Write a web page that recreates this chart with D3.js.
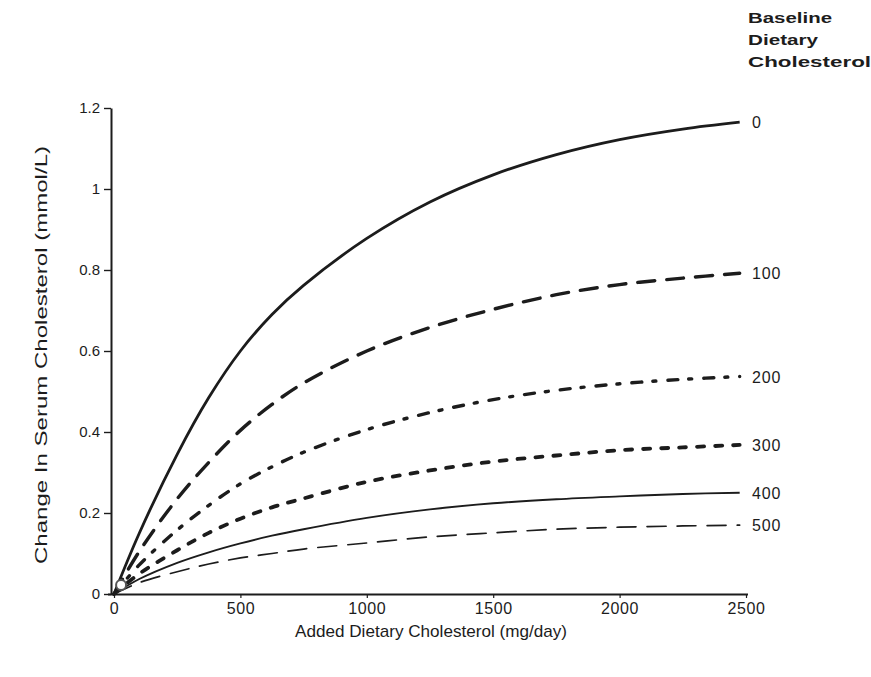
<!DOCTYPE html>
<html>
<head>
<meta charset="utf-8">
<script src="https://cdn.jsdelivr.net/npm/d3@7"></script>
<style>
  body { margin: 0; background: #fff; }
  svg { display: block; }
  text { font-family: "Liberation Sans", Arial, sans-serif; fill: #1c1c1c; }
</style>
</head>
<body>
<svg width="871" height="677"></svg>
<script>
// added dietary cholesterol (mg/day)
const xValues = [0, 100, 250, 375, 500, 625, 750, 1000, 1250, 1500, 1750, 2000, 2250, 2475];

// change in serum cholesterol (mmol/L), one array per baseline level
const base0 = [0, 0.15, 0.345, 0.485, 0.600, 0.690, 0.762, 0.878, 0.968, 1.035, 1.085, 1.122, 1.148, 1.165];
const base100 = [0, 0.105, 0.235, 0.325, 0.404, 0.468, 0.521, 0.600, 0.658, 0.703, 0.739, 0.764, 0.780, 0.792];
const base200 = [0, 0.072, 0.158, 0.219, 0.272, 0.314, 0.350, 0.406, 0.448, 0.480, 0.503, 0.519, 0.530, 0.537];
const base300 = [0, 0.05, 0.108, 0.151, 0.186, 0.214, 0.236, 0.277, 0.305, 0.327, 0.342, 0.355, 0.362, 0.368];
const base400 = [0, 0.037, 0.077, 0.103, 0.125, 0.144, 0.160, 0.188, 0.209, 0.224, 0.234, 0.241, 0.247, 0.250];
const base500 = [0, 0.028, 0.055, 0.074, 0.089, 0.100, 0.111, 0.126, 0.141, 0.151, 0.160, 0.165, 0.168, 0.170];

const seriesLabels = ["0", "100", "200", "300", "400", "500"];
const legendTitle = ["Baseline", "Dietary", "Cholesterol"];
const xTicks = [0, 500, 1000, 1500, 2000, 2500];
const yTicks = [0, 0.2, 0.4, 0.6, 0.8, 1, 1.2];

const series = [
  { label: seriesLabels[0], values: base0, width: 2.8, dash: null },
  { label: seriesLabels[1], values: base100, width: 3.4, dash: "17,12" },
  { label: seriesLabels[2], values: base200, width: 3.4, dash: "10,11,3,12" },
  { label: seriesLabels[3], values: base300, width: 3.8, dash: "7,11" },
  { label: seriesLabels[4], values: base400, width: 1.9, dash: null },
  { label: seriesLabels[5], values: base500, width: 1.7, dash: "19,11" }
];

const svg = d3.select("svg");
const ink = "#1c1c1c";

const xScale = d3.scaleLinear().domain([0, 2500]).range([114, 746]);
const yScale = d3.scaleLinear().domain([0, 1.2]).range([594, 108]);

// x axis
const xAxis = d3.axisBottom(xScale)
  .tickValues(xTicks)
  .tickSize(4)
  .tickSizeOuter(0)
  .tickPadding(5)
  .tickFormat(d3.format("d"));
const gx = svg.append("g")
  .attr("transform", `translate(0, ${yScale(0)})`)
  .call(xAxis);
gx.select(".domain").attr("d", `M108,0.5H748`).attr("stroke", ink).attr("stroke-width", 2);
gx.selectAll(".tick line").attr("stroke", ink).attr("stroke-width", 1.2);
gx.selectAll(".tick text").attr("font-size", 16).attr("letter-spacing", 0.6).attr("fill", ink);

// y axis
const yAxis = d3.axisLeft(yScale)
  .tickValues(yTicks)
  .tickSize(7)
  .tickSizeOuter(0)
  .tickPadding(4)
  .tickFormat(d => d === 0 || d === 1 ? d3.format("d")(d) : d3.format(".1f")(d));
const gy = svg.append("g")
  .attr("transform", `translate(111, 0)`)
  .call(yAxis);
gy.select(".domain").attr("stroke", ink).attr("stroke-width", 2);
gy.selectAll(".tick line").attr("stroke", ink).attr("stroke-width", 1.4);
gy.selectAll(".tick text").attr("font-size", 15).attr("fill", ink);

// curves
const line = d3.line()
  .x((d, i) => xScale(xValues[i]))
  .y(d => yScale(d))
  .curve(d3.curveCatmullRom.alpha(0.5));

series.forEach(s => {
  svg.append("path")
    .datum(s.values)
    .attr("d", line)
    .attr("fill", "none")
    .attr("stroke", ink)
    .attr("stroke-width", s.width)
    .attr("stroke-dasharray", s.dash)
    .attr("stroke-linecap", s.dash ? "round" : "butt");

  svg.append("text")
    .attr("x", xScale(2500) + 6)
    .attr("y", yScale(s.values[s.values.length - 1]) + 6)
    .attr("font-size", 16)
    .attr("letter-spacing", 0.8)
    .text(s.label);
});

// small open marker at the origin
svg.append("circle")
  .attr("cx", xScale(28))
  .attr("cy", yScale(0.022))
  .attr("r", 5)
  .attr("fill", "#fff")
  .attr("stroke", "#555")
  .attr("stroke-width", 2);

// legend title
const titleWidths = [84, 70, 123];
legendTitle.forEach((t, i) => {
  svg.append("text")
    .attr("x", 748)
    .attr("y", 23 + i * 22)
    .attr("font-family", "DejaVu Sans")
    .attr("font-size", 15)
    .attr("font-weight", "bold")
    .attr("textLength", titleWidths[i])
    .attr("lengthAdjust", "spacingAndGlyphs")
    .text(t);
});

// axis titles
svg.append("text")
  .attr("x", 431)
  .attr("y", 637)
  .attr("text-anchor", "middle")
  .attr("font-size", 17)
  .attr("textLength", 272)
  .attr("lengthAdjust", "spacingAndGlyphs")
  .text("Added Dietary Cholesterol (mg/day)");

svg.append("text")
  .attr("transform", `translate(47, 355) rotate(-90)`)
  .attr("text-anchor", "middle")
  .attr("font-family", "DejaVu Sans")
  .attr("font-size", 17)
  .attr("textLength", 418)
  .attr("lengthAdjust", "spacingAndGlyphs")
  .text("Change In Serum Cholesterol (mmol/L)");
</script>
</body>
</html>
